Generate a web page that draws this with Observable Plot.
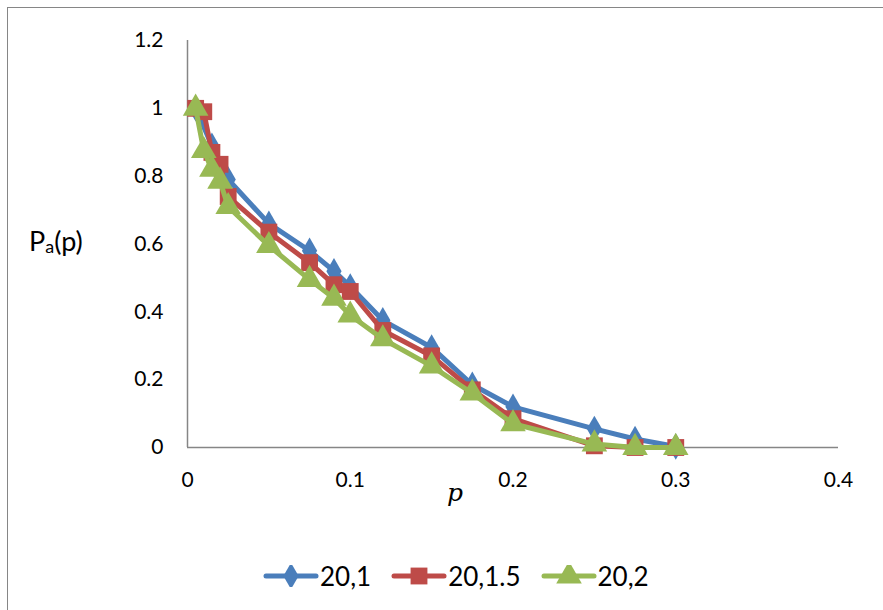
<!DOCTYPE html>
<html>
<head>
<meta charset="utf-8">
<script src="https://cdn.jsdelivr.net/npm/d3@7"></script>
<script src="https://cdn.jsdelivr.net/npm/@observablehq/plot@0.6"></script>
<style>
  html, body { margin: 0; padding: 0; background: #fff; width: 883px; height: 610px; overflow: hidden; font-family: Lato, "Open Sans", sans-serif; }
  #frame { position: absolute; left: 7px; top: 7px; width: 900px; height: 640px; border: 1.5px solid #868686; box-sizing: border-box; }
  #chart { position: absolute; left: 0; top: 0; }
  .ylab { position: absolute; left: 29px; top: 224px; font-size: 27px; color: #000; }
  .ylab sub { font-size: 18px; vertical-align: 0; position: relative; top: 2px; }
  .xlab { position: absolute; left: 447px; top: 478px; font-size: 25px; font-style: italic; font-family: "DejaVu Serif", serif; }
  #legend { position: absolute; top: 560px; left: 263px; display: flex; align-items: center; font-size: 26px; }
  #legend .item { display: flex; align-items: center; margin-right: 20px; }
  #legend svg { margin-right: 1px; }
</style>
</head>
<body>
<div id="frame"></div>
<div id="chart"></div>
<div class="ylab">P<sub>a</sub>(p)</div>
<div class="xlab">p</div>
<div id="legend"></div>
<script>
// Data
const seriesNames = ["20,1", "20,1.5", "20,2"];
const seriesColors = ["#4a7ebb", "#be4b48", "#98b954"];
const seriesSymbols = ["diamond", "square", "triangle"];

const x_20_1 = [0.005, 0.015, 0.025, 0.05, 0.075, 0.09, 0.1, 0.12, 0.15, 0.175, 0.2, 0.25, 0.275, 0.3];
const y_20_1 = [1.0, 0.89, 0.79, 0.66, 0.58, 0.52, 0.475, 0.375, 0.295, 0.185, 0.12, 0.055, 0.025, 0.003];

const x_20_15 = [0.005, 0.01, 0.015, 0.02, 0.025, 0.05, 0.075, 0.09, 0.1, 0.12, 0.15, 0.175, 0.2, 0.25, 0.275, 0.3];
const y_20_15 = [1.0, 0.99, 0.87, 0.835, 0.74, 0.635, 0.545, 0.48, 0.46, 0.345, 0.27, 0.17, 0.085, 0.005, 0.0, 0.0];

const x_20_2 = [0.005, 0.01, 0.015, 0.02, 0.025, 0.05, 0.075, 0.09, 0.1, 0.12, 0.15, 0.175, 0.2, 0.25, 0.275, 0.3];
const y_20_2 = [1.0, 0.875, 0.82, 0.785, 0.71, 0.595, 0.495, 0.44, 0.39, 0.32, 0.24, 0.16, 0.07, 0.01, 0.0, 0.0];

const xTicks = [0, 0.1, 0.2, 0.3, 0.4];
const yTicks = [0, 0.2, 0.4, 0.6, 0.8, 1, 1.2];

const allX = [x_20_1, x_20_15, x_20_2];
const allY = [y_20_1, y_20_15, y_20_2];
const tables = allX.map((xs, i) => xs.map((x, j) => ({x, y: allY[i][j], s: seriesNames[i]})));

const symbolRadius = [8, 9.5, 9.5];

const marks = [
  Plot.ruleX([0], {y1: 0, y2: 1.2, stroke: "#868686", strokeWidth: 1.5}),
  Plot.ruleY([0], {x1: 0, x2: 0.4, stroke: "#868686", strokeWidth: 1.5}),
  Plot.axisX({ticks: xTicks, tickSize: 0, tickPadding: 25, tickFormat: d => String(d), fontSize: 21, label: null}),
  Plot.axisY({ticks: yTicks, tickSize: 0, tickPadding: 24, tickFormat: d => String(d), fontSize: 21, label: null})
];
tables.forEach((t, i) => {
  marks.push(Plot.line(t, {x: "x", y: "y", stroke: seriesColors[i], strokeWidth: 5}));
  marks.push(Plot.dot(t, {x: "x", y: "y", fill: seriesColors[i], stroke: "none", symbol: () => seriesSymbols[i], r: symbolRadius[i]}));
});

const chart = Plot.plot({
  width: 883,
  height: 530,
  marginLeft: 187,
  marginRight: 45,
  marginTop: 40,
  marginBottom: 83,
  x: {domain: [0, 0.4]},
  y: {domain: [0, 1.2]},
  style: {fontFamily: "Lato, 'Open Sans', sans-serif", color: "#000", background: "transparent"},
  marks
});
document.getElementById("chart").appendChild(chart);

// Legend
const legend = document.getElementById("legend");
const shapes = [d3.symbolDiamond, d3.symbolSquare, d3.symbolTriangle];
const svgNS = "http://www.w3.org/2000/svg";
seriesNames.forEach((name, i) => {
  const item = document.createElement("div");
  item.className = "item";
  const svg = document.createElementNS(svgNS, "svg");
  svg.setAttribute("width", 56); svg.setAttribute("height", 22);
  const line = document.createElementNS(svgNS, "line");
  line.setAttribute("x1", 3); line.setAttribute("x2", 53); line.setAttribute("y1", 11); line.setAttribute("y2", 11);
  line.setAttribute("stroke", seriesColors[i]); line.setAttribute("stroke-width", 5); line.setAttribute("stroke-linecap", "round");
  svg.appendChild(line);
  const sym = document.createElementNS(svgNS, "path");
  sym.setAttribute("d", d3.symbol(shapes[i], Math.PI * symbolRadius[i] * symbolRadius[i])());
  sym.setAttribute("transform", "translate(28,11)");
  sym.setAttribute("fill", seriesColors[i]);
  svg.appendChild(sym);
  item.appendChild(svg);
  const label = document.createElement("span");
  label.textContent = name;
  item.appendChild(label);
  legend.appendChild(item);
});
</script>
</body>
</html>
